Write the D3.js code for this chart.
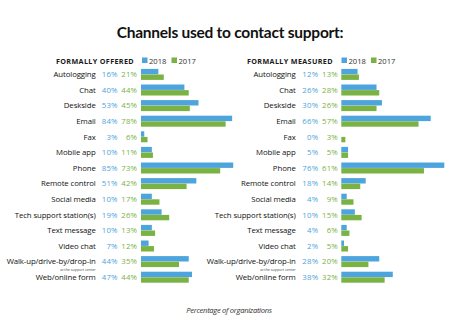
<!DOCTYPE html>
<html>
<head>
<meta charset="utf-8">
<script src="https://cdn.jsdelivr.net/npm/d3@7"></script>
<style>
  body { margin: 0; background: #fff; }
  svg { display: block; }
</style>
</head>
<body>
<svg id="chart" width="474" height="322"></svg>
<script>
const channels = ["Autologging", "Chat", "Deskside", "Email", "Fax", "Mobile app", "Phone",
  "Remote control", "Social media", "Tech support station(s)", "Text message", "Video chat",
  "Walk-up/drive-by/drop-in", "Web/online form"];
const offered2018 = [16, 40, 53, 84, 3, 10, 85, 51, 10, 19, 10, 7, 44, 47];
const offered2017 = [21, 44, 45, 78, 6, 11, 73, 42, 17, 26, 13, 12, 35, 44];
const measured2018 = [12, 26, 30, 66, 0, 5, 76, 18, 4, 10, 4, 2, 28, 38];
const measured2017 = [13, 28, 26, 57, 3, 5, 61, 14, 9, 15, 6, 5, 20, 32];
const years = ["2018", "2017"];

const BLUE = "#4ea5dd";
const GREEN = "#7ab244";
const YEAR_COR = [BLUE, GREEN];
const LABEL_FONT = "'Open Sans', sans-serif";

const SVG = d3.select("#chart");

// 标题
SVG.append("text")
  .attr("x", 230).attr("y", 37.5)
  .attr("text-anchor", "middle")
  .attr("font-family", "Lato, sans-serif")
  .attr("font-weight", 700)
  .attr("font-size", 15.5)
  .attr("letter-spacing", -0.25)
  .attr("fill", "#111")
  .text("Channels used to contact support:");

// 底部说明
SVG.append("text")
  .attr("x", 229).attr("y", 313)
  .attr("text-anchor", "middle")
  .attr("font-family", LABEL_FONT)
  .attr("font-style", "italic")
  .attr("font-size", 7.6)
  .attr("letter-spacing", -0.3)
  .attr("fill", "#333")
  .text("Percentage of organizations");

const Y = d3.scaleBand().domain(channels).range([66.5, 66.5 + 14 * 15.6]);

/** 画一个面板 **/
function draw_panel(opt) {
  const g = SVG.append("g");
  const x = d3.scaleLinear().domain([0, 100]).range([opt.x0, opt.x0 + opt.pxPer100]);

  g.append("text")
    .attr("x", opt.headX).attr("y", 64)
    .attr("font-family", LABEL_FONT)
    .attr("font-weight", 700)
    .attr("font-size", 7.2)
    .attr("letter-spacing", 0.35)
    .attr("fill", "#1a1a1a")
    .text(opt.title);

  // 图例
  years.forEach((yr, i) => {
    const lx = opt.legendX + i * 29.5;
    g.append("rect").attr("x", lx).attr("y", 57.5).attr("width", 5.5).attr("height", 5.5)
      .attr("fill", YEAR_COR[i]);
    g.append("text").attr("x", lx + 7).attr("y", 64)
      .attr("font-family", LABEL_FONT).attr("font-size", 7.6)
      .attr("fill", "#333").text(yr);
  });

  channels.forEach((c, i) => {
    const cy = Y(c) + Y.bandwidth() / 2;
    g.append("text")
      .attr("x", opt.labelX).attr("y", cy + 2.8)
      .attr("text-anchor", "end")
      .attr("font-family", LABEL_FONT)
      .attr("font-size", 7.8)
      .attr("letter-spacing", -0.1)
      .attr("fill", "#111")
      .text(c);
    if (c.startsWith("Walk-up")) {
      g.append("text")
        .attr("x", opt.labelX).attr("y", cy + 9)
        .attr("text-anchor", "end")
        .attr("font-family", LABEL_FONT)
        .attr("font-size", 3.6)
        .attr("fill", "#444")
        .text("at the support center");
    }
    const vals = [opt.v2018[i], opt.v2017[i]];
    vals.forEach((v, k) => {
      g.append("text")
        .attr("x", k === 0 ? opt.val18X : opt.val17X).attr("y", cy + 2.8)
        .attr("text-anchor", "end")
        .attr("font-family", LABEL_FONT)
        .attr("font-size", 7.8)
        .attr("letter-spacing", 0.2)
        .attr("fill", YEAR_COR[k])
        .text(v + "%");
      g.append("rect")
        .attr("x", x(0))
        .attr("y", k === 0 ? cy - 5.4 : cy + 0.2)
        .attr("width", x(v) - x(0))
        .attr("height", 5.4)
        .attr("fill", YEAR_COR[k]);
    });
  });
}

draw_panel({
  title: "FORMALLY OFFERED", headX: 56, legendX: 142,
  labelX: 95.7, val18X: 117.7, val17X: 137.2,
  x0: 141, pxPer100: 108.5,
  v2018: offered2018, v2017: offered2017
});

draw_panel({
  title: "FORMALLY MEASURED", headX: 247, legendX: 341.5,
  labelX: 295.7, val18X: 318.3, val17X: 338,
  x0: 341.3, pxPer100: 135.5,
  v2018: measured2018, v2017: measured2017
});
</script>
</body>
</html>
